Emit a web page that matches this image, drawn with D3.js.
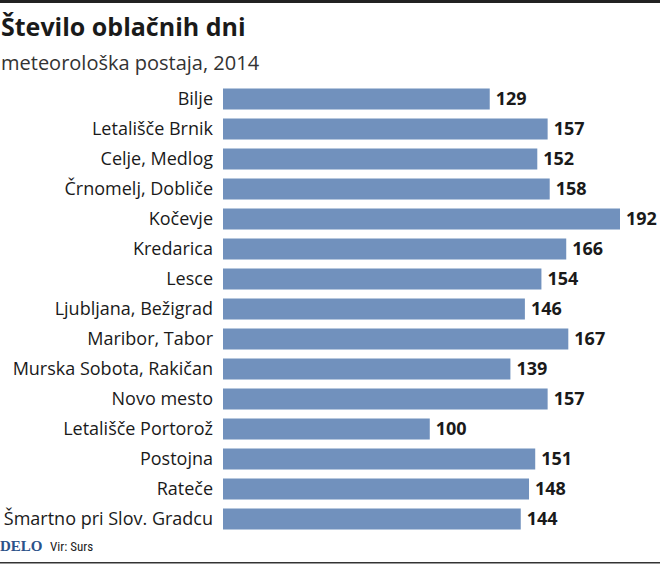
<html>
<head>
<meta charset="utf-8">
<style>
body { margin: 0; background: #fff; }
text { font-family: "Open Sans", "Noto Sans", sans-serif; fill: #1a1a1a; }
</style>
</head>
<body>
<svg></svg>
<script src="https://cdn.jsdelivr.net/npm/d3@7"></script>
<script>
var stations = ["Bilje", "Letališče Brnik", "Celje, Medlog", "Črnomelj, Dobliče", "Kočevje",
  "Kredarica", "Lesce", "Ljubljana, Bežigrad", "Maribor, Tabor", "Murska Sobota, Rakičan",
  "Novo mesto", "Letališče Portorož", "Postojna", "Rateče", "Šmartno pri Slov. Gradcu"];
var cloudyDays = [129, 157, 152, 158, 192, 166, 154, 146, 167, 139, 157, 100, 151, 148, 144];

var width = 660, height = 566;
var svg = d3.select("svg").attr("width", width).attr("height", height);

// frame lines
svg.append("rect").attr("x", 0).attr("y", 0).attr("width", width).attr("height", 3).attr("fill", "#222");
svg.append("rect").attr("x", 0).attr("y", 562).attr("width", width).attr("height", 1.5).attr("fill", "#333");

svg.append("text").attr("x", 1).attr("y", 36)
    .style("font-size", "25px").style("font-weight", "bold")
    .text("Število oblačnih dni");
svg.append("text").attr("x", 1).attr("y", 70)
    .style("font-size", "20px").style("fill", "#333")
    .text("meteorološka postaja, 2014");

var x = d3.scaleLinear().domain([0, 192]).range([223, 620]);
var y = d3.scaleBand().domain(stations).range([84, 534]).paddingInner(0.3).paddingOuter(0.15);

var rows = svg.append("g").selectAll("g").data(stations).enter().append("g");

rows.append("rect")
    .attr("x", x(0))
    .attr("y", function(d) { return y(d); })
    .attr("width", function(d, i) { return x(cloudyDays[i]) - x(0); })
    .attr("height", y.bandwidth())
    .attr("fill", "#7191bd");

rows.append("text")
    .attr("x", 213)
    .attr("y", function(d) { return y(d) + y.bandwidth() / 2; })
    .attr("dy", "0.35em")
    .attr("text-anchor", "end")
    .style("font-size", "18px")
    .text(function(d) { return d; });

rows.append("text")
    .attr("x", function(d, i) { return x(cloudyDays[i]) + 6; })
    .attr("y", function(d) { return y(d) + y.bandwidth() / 2; })
    .attr("dy", "0.35em")
    .style("font-size", "18px").style("font-weight", "bold")
    .text(function(d, i) { return cloudyDays[i]; });

svg.append("text").attr("x", 0).attr("y", 551)
    .style("font-family", "'Liberation Serif', serif").style("font-weight", "bold")
    .style("font-size", "15px").style("fill", "#2b5289")
    .text("DELO");
svg.append("text").attr("x", 50).attr("y", 551)
    .style("font-family", "'Roboto Condensed', 'Liberation Sans Narrow', 'Roboto', sans-serif")
    .style("font-size", "13px").style("fill", "#222")
    .text("Vir: Surs");
</script>
</body>
</html>
